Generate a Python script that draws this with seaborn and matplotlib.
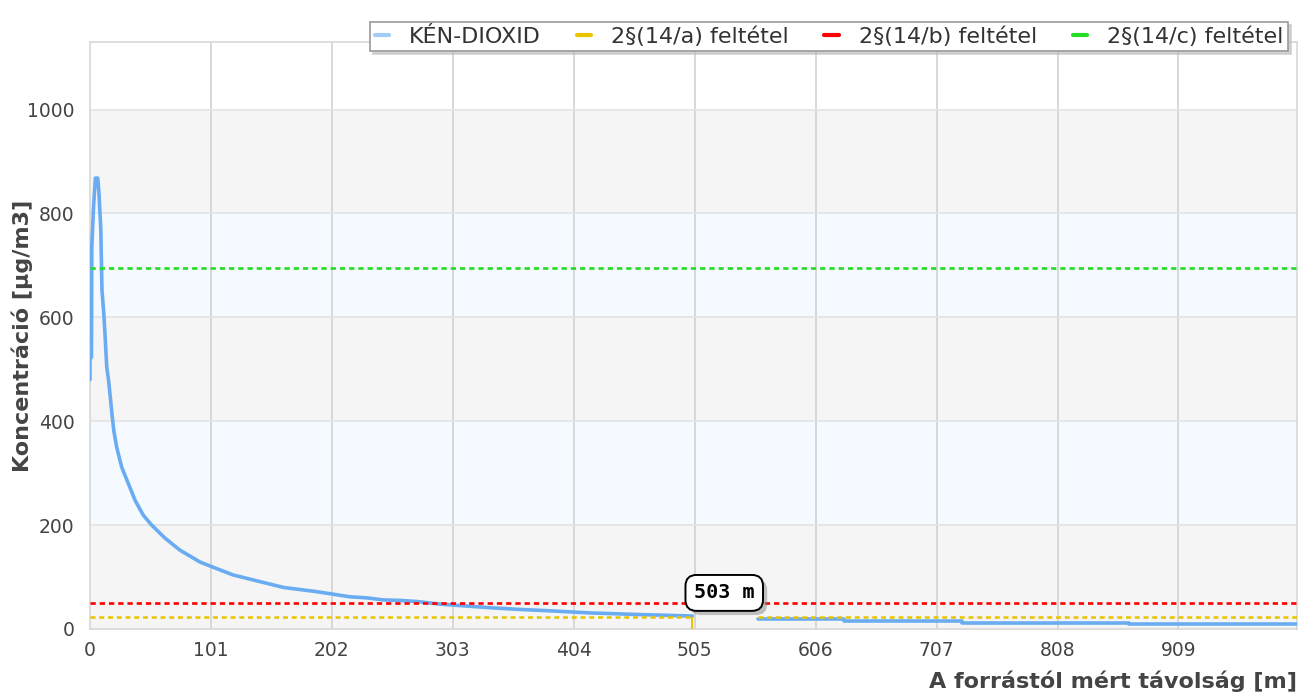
import numpy as np
import pandas as pd
import matplotlib
matplotlib.use("Agg")
import matplotlib.pyplot as plt
import seaborn as sns
from matplotlib.lines import Line2D
import matplotlib.patheffects as pe

# ---------------- data ----------------
series_name = "KÉN-DIOXID"
dist_main = [0, 0, 1.2, 1.5, 3, 4.5, 6.5, 7.5, 9, 10, 11.5, 12.5, 14, 15.5, 17,
             18.5, 20, 22.3, 26.4, 32, 37.6, 44.5, 51.5, 62.6, 75, 91.8, 101.6, 119.6,
             133.6, 147.5, 161.5, 175.3, 189, 203, 217, 231, 245, 259, 272.7, 292,
             334, 356, 384, 417, 456, 503]
conc_main = [480, 523, 523, 735, 815, 868, 868, 838, 771, 652, 608, 569, 504, 479, 445,
             410, 380, 350, 312, 280, 248, 219, 200, 175, 152, 129, 120, 104,
             96, 88, 80, 76, 72, 67, 62, 60, 56, 55, 53, 48,
             41, 38, 35, 31, 28, 25]
dist_tail = [558, 630, 630, 728, 728, 868, 868, 1008]
conc_tail = [18.5, 18.5, 15.5, 15.5, 12, 12, 9, 9]

limit_names = ["2§(14/a) feltétel", "2§(14/b) feltétel", "2§(14/c) feltétel"]
limit_values = [24, 50, 695]
limit_colors = ["#e8c400", "#ff0000", "#22dd22"]
yellow_gap = [503, 558]          # where the (14/a) line is interrupted
marker_distance = 503            # crossing point label
marker_label = "503 m"

x_ticks = [0, 101, 202, 303, 404, 505, 606, 707, 808, 909]
y_ticks = [0, 200, 400, 600, 800, 1000]
x_max = 1008
y_max = 1130
xlabel = "A forrástól mért távolság [m]"
ylabel = "Koncentráció [µg/m3]"

# ---------------- figure ----------------
sns.set_theme(style="white")
plt.rcParams['font.family'] = ['DejaVu Sans']

W, H = 1298, 695
fig = plt.figure(figsize=(W / 100, H / 100), dpi=100)
ax = fig.add_axes([90 / W, 1 - 629 / H, (1297 - 90) / W, (629 - 42) / H])

# background bands
band_colors = ["#f5f5f5", "#f4faff", "#f5f5f5", "#f4faff", "#f5f5f5"]
for i, c in enumerate(band_colors):
    ax.axhspan(y_ticks[i], y_ticks[i + 1], color=c, zorder=0, lw=0)

df = pd.DataFrame({
    "dist": dist_main + dist_tail,
    "conc": conc_main + conc_tail,
    "seg": [0] * len(dist_main) + [1] * len(dist_tail),
})
line_color = "#6aacf2"
sns.lineplot(data=df, x="dist", y="conc", units="seg", estimator=None, sort=False,
             color=line_color, lw=2.6, ax=ax, zorder=3, legend=False)

# limit lines
dash = (0, (2.0, 1.5))
ax.hlines(limit_values[0], 0, yellow_gap[0], color=limit_colors[0], lw=1.8,
          linestyle=dash, zorder=4)
ax.hlines(limit_values[0], yellow_gap[1], x_max, color=limit_colors[0], lw=1.8,
          linestyle=dash, zorder=4)
ax.axhline(limit_values[1], color=limit_colors[1], lw=1.9, linestyle=dash, zorder=4)
ax.axhline(limit_values[2], color=limit_colors[2], lw=1.9, linestyle=dash, zorder=4)
ax.vlines(marker_distance, 0, limit_values[0], color=limit_colors[0], lw=1.4, zorder=4)

# label box
t = ax.annotate(marker_label, xy=(marker_distance, limit_values[0]),
                xytext=(23, 17), textcoords="offset points", ha="center", va="center",
                fontsize=14.5, fontweight="bold", family="DejaVu Sans Mono", color="black",
                bbox=dict(boxstyle="round,pad=0.42,rounding_size=0.55", fc="white",
                          ec="black", lw=1.4),
                zorder=6)
t.get_bbox_patch().set_path_effects([
    pe.SimplePatchShadow(offset=(3, -3), shadow_rgbFace="#888888", alpha=0.5),
    pe.Normal()])

# axes styling
ax.set_xlim(0, x_max)
ax.set_ylim(0, y_max)
ax.set_xticks(x_ticks)
ax.set_yticks(y_ticks)
ax.set_xticklabels([str(v) for v in x_ticks])
ax.set_yticklabels([str(v) for v in y_ticks])
ax.tick_params(axis="both", length=0, labelsize=13.5, colors="#444444")
ax.tick_params(axis="x", pad=9)
ax.tick_params(axis="y", pad=11)
ax.grid(False)
for v in x_ticks[1:]:
    ax.axvline(v, color="#d2d2d2", lw=1.2, zorder=1)
for v in y_ticks[1:]:
    ax.axhline(v, color="#e3e3e3", lw=1.2, zorder=1)
for s in ax.spines.values():
    s.set_color("#d8d8d8")
    s.set_linewidth(1.2)

ax.set_xlabel(xlabel, loc="right", fontsize=16, fontweight="bold", color="#444444",
              labelpad=7)
ax.set_ylabel(ylabel, fontsize=16, fontweight="bold", color="#444444")
ax.yaxis.set_label_coords((22 - 90) / (1297 - 90), 0.5)
ax.yaxis.label.set_va("center")
ax.yaxis.label.set_ha("center")

# legend
handles = [Line2D([], [], color="#a3cdf5", lw=3)] + \
          [Line2D([], [], color=c, lw=3) for c in limit_colors]
labels = [series_name] + limit_names
leg = fig.legend(handles, labels, loc="upper right", bbox_to_anchor=(1288 / W, 1 - 22 / H),
                 ncol=4, fontsize=16, frameon=True, fancybox=False, edgecolor="#999999",
                 handlelength=0.65, handletextpad=0.9, columnspacing=1.6,
                 borderpad=0.2, borderaxespad=0,
                 shadow={"color": "#bbbbbb", "alpha": 0.6})
leg.get_frame().set_linewidth(1.2)
for txt in leg.get_texts():
    txt.set_color("#333333")

fig.savefig("out.png", dpi=100)
